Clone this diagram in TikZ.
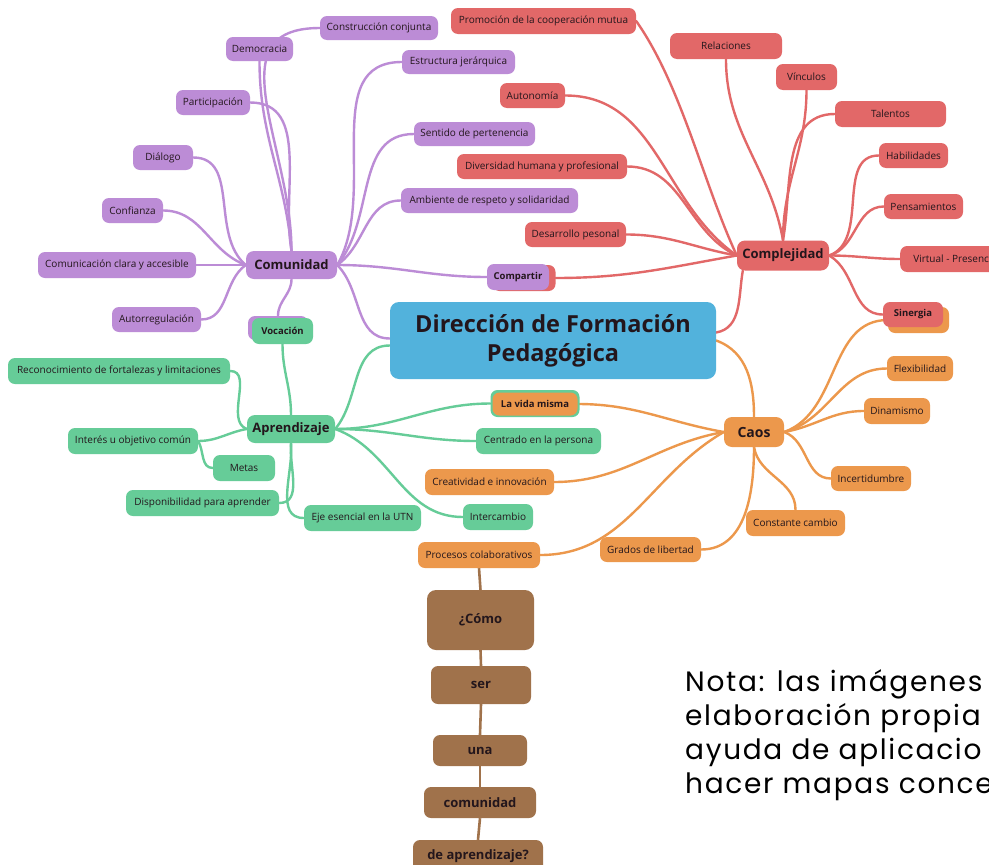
\documentclass[tikz,border=0pt]{standalone}
\usepackage{fontspec}
\setmainfont{Open Sans}
\newfontfamily\notefont[LetterSpace=6]{Poppins}
\usetikzlibrary{backgrounds}
\pgfdeclarelayer{bottom}
\pgfsetlayers{bottom,background,main}
\definecolor{pur}{RGB}{188,140,214}
\definecolor{redn}{RGB}{226,104,104}
\definecolor{ora}{RGB}{236,152,76}
\definecolor{gre}{RGB}{102,204,152}
\definecolor{blu}{RGB}{82,178,220}
\definecolor{bro}{RGB}{160,114,75}
\definecolor{txt}{RGB}{35,22,28}
\tikzset{
  nd/.style={rounded corners=7pt, inner xsep=3pt, inner ysep=0pt, minimum height=25pt,
    font=\fontsize{10}{12}\selectfont, text=txt},
  nPur/.style={nd, fill=pur},
  nRed/.style={nd, fill=redn},
  nOra/.style={nd, fill=ora},
  nGre/.style={nd, fill=gre},
  nBro/.style={nd, fill=bro, font=\bfseries\fontsize{13}{15}\selectfont},
  big/.style={font=\bfseries\fontsize{13}{15}\selectfont, rounded corners=8pt},
  sb/.style={font=\bfseries\fontsize{9.5}{11}\selectfont},
  con/.style={line width=2.4pt, line cap=round},
  cP/.style={con, draw=pur},
  cR/.style={con, draw=redn},
  cO/.style={con, draw=ora},
  cG/.style={con, draw=gre},
  cB/.style={line width=2.6pt, draw=bro},
}
\begin{document}
\begin{tikzpicture}[x=1pt,y=-1pt]
\useasboundingbox (0,0) rectangle (989,865);
\begin{pgfonlayer}{bottom}
\fill[white] (0,0) rectangle (989,865);
\end{pgfonlayer}
\clip (0,0) rectangle (989,865);

% central
\node[fill=blu, rounded corners=9pt, minimum width=326pt, minimum height=77pt, align=center,
  font=\bfseries\fontsize{23.5}{29}\selectfont, text=txt] (central) at (553,340.5)
  {Dirección de Formación\\Pedagógica};

% purple
\node[nPur, big, minimum width=91pt, minimum height=28pt] (comunidad) at (291.5,265) {Comunidad};
\node[nPur, minimum width=118pt, minimum height=24pt] (construccion) at (379,28) {Construcción conjunta};
\node[nPur, minimum width=67pt, minimum height=24pt] (democracia) at (259.5,49) {Democracia};
\node[nPur, minimum width=113pt, minimum height=24pt] (estructura) at (458.5,62) {Estructura jerárquica};
\node[nPur, minimum width=74pt] (participacion) at (213,102.5) {Participación};
\node[nPur, minimum width=121pt, minimum height=24pt] (sentido) at (474.5,134) {Sentido de pertenencia};
\node[nPur, minimum width=60pt] (dialogo) at (163,157.5) {Diálogo};
\node[nPur, minimum width=61pt] (confianza) at (132.5,210.5) {Confianza};
\node[nPur, minimum width=177pt] (ambiente) at (489.5,200.5) {Ambiente de respeto y solidaridad};
\node[nPur, minimum width=158pt, minimum height=26pt] (comunicacion) at (117,265) {Comunicación clara y accesible};
\node[nPur, minimum width=89pt] (autorregulacion) at (156.5,319.5) {Autorregulación};
\node[nRed, minimum width=63pt, minimum height=26pt] (compartirR) at (524,278) {};
\node[nPur, sb, minimum width=62pt, minimum height=26pt] (compartirP) at (518,277) {Compartir};
\node[nPur, minimum width=60pt, minimum height=24pt] (vocacionP) at (278,328) {};
\node[nGre, sb, minimum width=61pt, minimum height=26pt] (vocacion) at (282.5,331) {Vocación};

% red
\node[nRed, big, minimum width=92pt, minimum height=30pt] (complejidad) at (783,255.5) {Complejidad};
\node[nRed, minimum width=185pt, minimum height=26pt] (promocion) at (543.5,21) {Promoción de la cooperación mutua};
\node[nRed, minimum width=112pt, minimum height=26pt] (relaciones) at (726,46) {Relaciones};
\node[nRed, minimum width=61pt, minimum height=26pt] (vinculos) at (806.5,77) {Vínculos};
\node[nRed, minimum width=111pt, minimum height=26pt] (talentos) at (890.5,114) {Talentos};
\node[nRed, minimum width=65pt] (autonomia) at (532.5,95.5) {Autonomía};
\node[nRed, minimum width=69pt] (habilidades) at (913.5,155.5) {Habilidades};
\node[nRed, minimum width=170pt] (diversidad) at (542,166.5) {Diversidad humana y profesional};
\node[nRed, minimum width=79pt] (pensamientos) at (923.5,206.5) {Pensamientos};
\node[nRed, minimum width=101pt] (desarrollo) at (575.5,234.5) {Desarrollo pesonal};
\node[nRed, anchor=west, minimum width=110pt, minimum height=26pt, inner xsep=6pt] (virtual) at (900,259) {Virtual - Presencia\rlap{l}};
\node[nOra, minimum width=61pt, minimum height=26pt] (sinergiaO) at (918.5,320) {};
\node[nRed, sb, minimum width=60pt] (sinergia) at (913,314.5) {Sinergia};

% orange
\node[nOra, big, minimum width=60pt, minimum height=30pt, font=\bfseries\fontsize{14}{16}\selectfont] (caos) at (754,432) {Caos};
\node[nGre, minimum width=89pt, minimum height=27pt] (vidaG) at (535,403.5) {};
\node[nOra, sb, minimum width=85pt, minimum height=23pt] (vida) at (535,404) {La vida misma};
\node[nOra, minimum width=66pt] (flexibilidad) at (920,368.5) {Flexibilidad};
\node[nOra, minimum width=66pt, minimum height=26pt] (dinamismo) at (897,411) {Dinamismo};
\node[nOra, minimum width=80pt] (incertidumbre) at (871,478.5) {Incertidumbre};
\node[nOra, minimum width=99pt, minimum height=26pt] (constante) at (795.5,523) {Constante cambio};
\node[nOra, minimum width=101pt] (grados) at (650.5,549.5) {Grados de libertad};
\node[nOra, minimum width=129pt, minimum height=26pt] (creatividad) at (489.5,482) {Creatividad e innovación};
\node[nOra, minimum width=122pt, minimum height=26pt] (procesos) at (479,555) {Procesos colaborativos};

% green
\node[nGre, big, minimum width=88pt, minimum height=28pt] (aprendizaje) at (291,429) {Aprendizaje};
\node[nGre, minimum width=222pt, minimum height=26pt] (reconocimiento) at (119,371) {Reconocimiento de fortalezas y limitaciones};
\node[nGre, minimum width=130pt, minimum height=26pt] (interes) at (133,441) {Interés u objetivo común};
\node[nGre, minimum width=62pt, minimum height=26pt] (metas) at (244,468) {Metas};
\node[nGre, minimum width=153pt, minimum height=26pt] (disponibilidad) at (202.5,503) {Disponibilidad para aprender};
\node[nGre, minimum width=117pt, minimum height=26pt] (eje) at (362.5,518) {Eje esencial en la UTN};
\node[nGre, minimum width=125pt, minimum height=26pt] (centrado) at (538.5,441) {Centrado en la persona};
\node[nGre, minimum width=70pt, minimum height=26pt] (intercambio) at (498,517) {Intercambio};

% brown
\node[nBro, minimum width=107pt, minimum height=60pt, rounded corners=9pt] (como) at (480.5,620) {¿Cómo};
\node[nBro, minimum width=100pt, minimum height=38pt] (ser) at (481,685) {ser};
\node[nBro, minimum width=94pt, minimum height=31pt] (una) at (480,750.5) {una};
\node[nBro, minimum width=112pt, minimum height=31pt] (comunidadB) at (480,802.5) {comunidad};
\node[nBro, minimum width=130pt, minimum height=32pt] (deapr) at (478,856) {de aprendizaje?};

% note
\node[anchor=base west, inner sep=0pt, align=left, text=black,
  font=\notefont\fontsize{28}{34}\selectfont] (nota) at (685,793)
  {Nota: las imágenes\\elaboración propia\\ayuda de aplicacio\\hacer mapas conce};

\begin{pgfonlayer}{background}
% purple
\draw[cP] (comunidad.north) to[out=90,in=180,looseness=1.2] (construccion.west);
\draw[cP] (comunidad.north) to[out=95,in=-90] (democracia.south);
\draw[cP] (comunidad.north) to[out=100,in=0] (participacion.east);
\draw[cP] (comunidad.east) to[out=60,in=180] (estructura.west);
\draw[cP] (comunidad.east) to[out=50,in=180] (sentido.west);
\draw[cP] (comunidad.east) to[out=35,in=180] (ambiente.west);
\draw[cP] (comunidad.east) to[out=0,in=180] (compartirP.west);
\draw[cP] (comunidad.east) to[out=-45,in=180] ([yshift=2pt]central.west);
\draw[cP] (dialogo.east) to[out=0,in=140] (comunidad.west);
\draw[cP] (confianza.east) to[out=0,in=160] (comunidad.west);
\draw[cP] (comunicacion.east) -- (comunidad.west);
\draw[cP] (autorregulacion.east) to[out=0,in=215] (comunidad.west);
\draw[cP] (comunidad.south) to[out=-90,in=90] (vocacionP.north);
% red
\draw[cR] (promocion.east) to[out=-55,in=115,looseness=0.8] (complejidad.west);
\draw[cR] (relaciones.south) to[out=-90,in=100] (complejidad.north);
\draw[cR] (vinculos.south) to[out=-90,in=90] (complejidad.north);
\draw[cR] (talentos.west) to[out=180,in=80] (complejidad.north);
\draw[cR] (autonomia.east) to[out=0,in=145] (complejidad.west);
\draw[cR] (diversidad.east) to[out=0,in=155] (complejidad.west);
\draw[cR] (desarrollo.east) to[out=0,in=170] (complejidad.west);
\draw[cR] (compartirR.east) to[out=0,in=190] (complejidad.west);
\draw[cR] (habilidades.west) to[out=180,in=20] (complejidad.east);
\draw[cR] (pensamientos.west) to[out=180,in=15] (complejidad.east);
\draw[cR] (virtual.west) to[out=180,in=0] (complejidad.east);
\draw[cR] (sinergia.west) to[out=180,in=-30] (complejidad.east);
\draw[cR] ([xshift=6pt]complejidad.south west) to[out=-100,in=10] ([yshift=8pt]central.east);
% orange
\draw[cO] (central.east) to[out=-20,in=90] (caos.north);
\draw[cO] (sinergiaO.west) to[out=180,in=20] (caos.east);
\draw[cO] (flexibilidad.west) to[out=180,in=15] (caos.east);
\draw[cO] (dinamismo.west) to[out=180,in=10] (caos.east);
\draw[cO] (incertidumbre.west) to[out=180,in=-20] (caos.east);
\draw[cO] (constante.north) to[out=90,in=-80] (caos.south);
\draw[cO] (grados.east) to[out=0,in=-90] (caos.south);
\draw[cO] (vida.east) to[out=0,in=170] (caos.west);
\draw[cO] (creatividad.east) to[out=0,in=190] (caos.west);
\draw[cO] (procesos.east) to[out=0,in=210] (caos.west);
% green
\draw[cG] (vocacion.south) to[out=-90,in=90] (aprendizaje.north);
\draw[cG] (aprendizaje.east) to[out=50,in=180] ([yshift=-5pt]central.west);
\draw[cG] (reconocimiento.east) to[out=0,in=160] (aprendizaje.west);
\draw[cG] (interes.east) to[out=0,in=190] (aprendizaje.west);
\draw[cG] (interes.east) to[out=-60,in=180] (metas.west);
\draw[cG] (disponibilidad.east) to[out=0,in=-95] (aprendizaje.south);
\draw[cG] (eje.west) to[out=180,in=-85] (aprendizaje.south);
\draw[cG] (aprendizaje.east) to[out=0,in=180] (vidaG.west);
\draw[cG] (aprendizaje.east) to[out=0,in=180] (centrado.west);
\draw[cG] (aprendizaje.east) to[out=-20,in=180] (intercambio.west);
% brown
\draw[cB] (procesos.south) -- (como.north);
\draw[cB] (como.south) -- (ser.north);
\draw[cB] (ser.south) -- (una.north);
\draw[cB] (una.south) -- (comunidadB.north);
\draw[cB] (comunidadB.south) -- (deapr.north);
\end{pgfonlayer}
\end{tikzpicture}
\end{document}
